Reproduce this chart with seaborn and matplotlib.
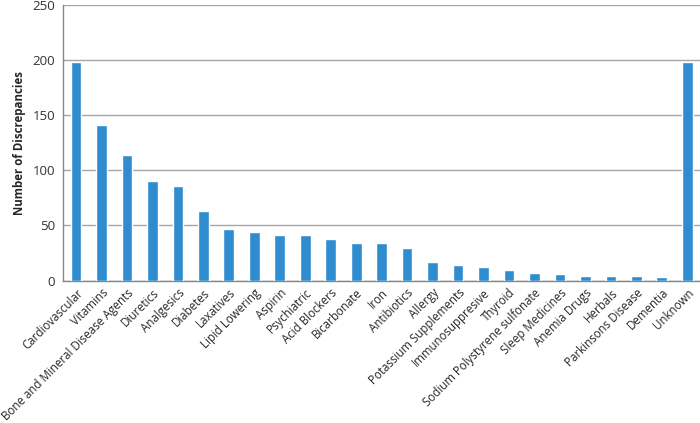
import numpy as np
import pandas as pd
import matplotlib
matplotlib.use("Agg")
import matplotlib.pyplot as plt
import seaborn as sns

categories = ["Cardiovascular", "Vitamins", "Bone and Mineral Disease Agents", "Diuretics",
              "Analgesics", "Diabetes", "Laxatives", "Lipid Lowering", "Aspirin", "Psychiatric",
              "Acid Blockers", "Bicarbonate", "Iron", "Antibiotics", "Allergy",
              "Potassium Supplements", "Immunosuppresive", "Thyroid", "Sodium Polystyrene sulfonate",
              "Sleep Medicines", "Anemia Drugs", "Herbals", "Parkinsons Disease", "Dementia", "Unknown"]
counts = [198, 141, 114, 90, 86, 63, 47, 44, 41, 41,
          38, 34, 34, 30, 17, 14, 12, 10, 7, 6,
          4, 4, 4, 3, 198]
y_ticks = [0, 50, 100, 150, 200, 250]

df = pd.DataFrame({"category": categories, "count": counts})

sns.set_style("white")
plt.rcParams['font.family'] = ['Open Sans', 'DejaVu Sans']

fig, ax = plt.subplots(figsize=(7, 4.23), dpi=100)
fig.subplots_adjust(left=0.0904, right=1.0, top=0.989, bottom=0.3364)

sns.barplot(data=df, x="category", y="count", color="#2f8ccf", saturation=1,
            width=0.42, ax=ax, zorder=3)

ax.set_ylim(0, 250)
ax.set_xlim(-0.5, len(categories) - 0.5)
ax.set_yticks(y_ticks)
ax.set_yticklabels([str(v) for v in y_ticks], fontsize=9.5, color="#333333")
ax.yaxis.grid(True, color="#a6a6a6", linewidth=1.0, zorder=0)
ax.set_axisbelow(True)

# labels at bar centres, tick marks at category boundaries
ax.set_xticks(np.arange(len(categories)))
ax.set_xticklabels(categories, rotation=45, ha="right", rotation_mode="anchor", fontsize=8.3)
ax.tick_params(axis="x", which="major", length=0, pad=4)
ax.set_xticks(np.arange(len(categories) + 1) - 0.5, minor=True)
ax.tick_params(axis="x", which="minor", length=4, color="#868686", width=1, direction="out")
ax.tick_params(axis="y", length=3, color="#868686", width=1, direction="out", pad=3)

for side in ["top", "right"]:
    ax.spines[side].set_visible(False)
for side in ["left", "bottom"]:
    ax.spines[side].set_color("#868686")
    ax.spines[side].set_linewidth(1)

ax.set_xlabel("")
ax.set_ylabel("Number of Discrepancies", fontsize=8.3, fontweight="bold")
ax.yaxis.set_label_coords(-0.058, 0.5)

fig.savefig("out.png", dpi=100)
